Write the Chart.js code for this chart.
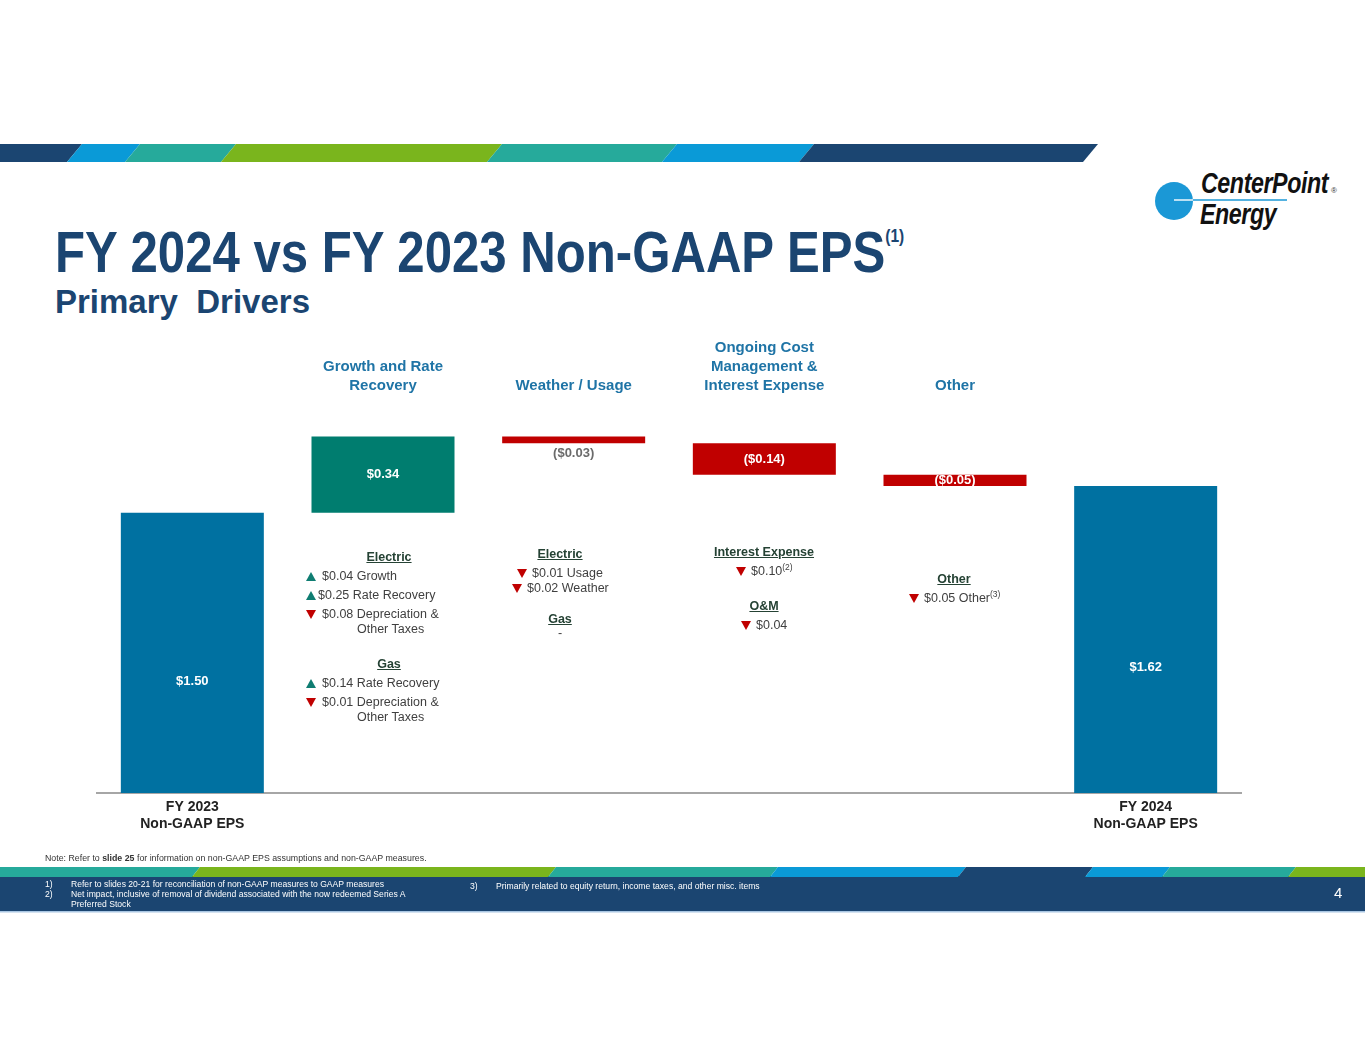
<!DOCTYPE html>
<html>
<head>
<meta charset="utf-8">
<title>FY 2024 vs FY 2023 Non-GAAP EPS</title>
<script src="https://cdn.jsdelivr.net/npm/chart.js@4.4.1/dist/chart.umd.min.js"></script>
<style>
  body { margin: 0; width: 1365px; height: 1055px; background: #fff; position: relative; overflow: hidden;
         font-family: "Liberation Sans", Arial, sans-serif; }
  .abs { position: absolute; white-space: nowrap; }
  #chart { position: absolute; left: 0; top: 0; }
  .title { left: 55px; top: 224px; font-size: 57px; line-height: 57px; font-weight: bold; color: #1b4571;
           transform: scaleX(0.862); transform-origin: 0 0; }
  .title sup { font-size: 18px; vertical-align: 30px; line-height: 0; }
  .subtitle { left: 55px; top: 285px; font-size: 33px; line-height: 33px; font-weight: bold; color: #1b4571; }
  .note { font-size: 12.5px; line-height: 16px; color: #3f3f3f; }
  .head { font-weight: bold; text-decoration: underline; color: #254234; text-align: center; width: 160px; }
  .up, .down { position: absolute; width: 0; height: 0; border-left: 5px solid transparent; border-right: 5px solid transparent; }
  .up { border-bottom: 9px solid #0f7d72; }
  .down { border-top: 9px solid #c00000; }
  .note sup { font-size: 8.5px; vertical-align: 5px; line-height: 0; }
  .foot { font-size: 8.6px; line-height: 10px; color: #fff; }
  .logo1 { left: 1201px; top: 169px; font-size: 29px; line-height: 29px; font-weight: bold; font-style: italic; color: #111;
           transform: scaleX(0.8); transform-origin: 0 0; letter-spacing: -0.5px; }
  .logo2 { left: 1200px; top: 200px; font-size: 29px; line-height: 29px; font-weight: bold; font-style: italic; color: #111;
           transform: scaleX(0.8); transform-origin: 0 0; letter-spacing: -0.5px; }
</style>
</head>
<body>

<svg class="abs" style="left:0;top:0" width="1365" height="1055">
  <!-- header band -->
  <polygon points="0,144 82,144 67,162 0,162" fill="#1b4571"/>
  <polygon points="82,144 140,144 125,162 67,162" fill="#0a9ad7"/>
  <polygon points="140,144 236,144 221,162 125,162" fill="#26aa9b"/>
  <polygon points="236,144 502,144 487,162 221,162" fill="#7ab51d"/>
  <polygon points="502,144 677,144 662,162 487,162" fill="#26aa9b"/>
  <polygon points="677,144 814,144 799,162 662,162" fill="#0a9ad7"/>
  <polygon points="814,144 1098,144 1083,162 799,162" fill="#1b4571"/>
  <!-- footer band -->
  <rect x="0" y="876" width="1365" height="35" fill="#1b4571"/>
  <polygon points="0,867 200,867 192,877 0,877" fill="#26aa9b"/>
  <polygon points="200,867 556,867 548,877 192,877" fill="#7ab51d"/>
  <polygon points="556,867 778,867 770,877 548,877" fill="#26aa9b"/>
  <polygon points="778,867 966,867 958,877 770,877" fill="#0a9ad7"/>
  <polygon points="966,867 1093,867 1085,877 958,877" fill="#1b4571"/>
  <polygon points="1093,867 1170,867 1162,877 1085,877" fill="#0a9ad7"/>
  <polygon points="1170,867 1296,867 1288,877 1162,877" fill="#26aa9b"/>
  <polygon points="1296,867 1365,867 1365,877 1288,877" fill="#7ab51d"/>
  <rect x="0" y="911" width="1365" height="1.5" fill="#a9c6e2"/>
  <!-- logo mark -->
  <circle cx="1174" cy="201" r="19" fill="#1b98d6"/>
  <line x1="1174" y1="200" x2="1193" y2="200" stroke="#fff" stroke-width="1.4"/>
  <line x1="1193" y1="200" x2="1287" y2="200" stroke="#1b98d6" stroke-width="1.4"/>
</svg>

<div class="abs logo1">CenterPoint</div>
<div class="abs logo2">Energy</div>
<div class="abs" style="left:1331px;top:186px;font-size:8px;color:#333">&reg;</div>

<div class="abs title">FY 2024 vs FY 2023 Non-GAAP EPS<sup>(1)</sup></div>
<div class="abs subtitle">Primary&nbsp; Drivers</div>

<canvas id="chart" width="1365" height="1055"></canvas>

<!-- Growth and Rate Recovery -->
<div class="abs note head" style="left:309px;top:549px">Electric</div>
<span class="up" style="left:306px;top:572px"></span><div class="abs note" style="left:322px;top:568px">$0.04 Growth</div>
<span class="up" style="left:306px;top:591px"></span><div class="abs note" style="left:318px;top:587px">$0.25 Rate Recovery</div>
<span class="down" style="left:306px;top:610px"></span><div class="abs note" style="left:322px;top:606px">$0.08 Depreciation &amp;</div>
<div class="abs note" style="left:357px;top:621px">Other Taxes</div>
<div class="abs note head" style="left:309px;top:656px">Gas</div>
<span class="up" style="left:306px;top:679px"></span><div class="abs note" style="left:322px;top:675px">$0.14 Rate Recovery</div>
<span class="down" style="left:306px;top:698px"></span><div class="abs note" style="left:322px;top:694px">$0.01 Depreciation &amp;</div>
<div class="abs note" style="left:357px;top:709px">Other Taxes</div>

<!-- Weather / Usage -->
<div class="abs note head" style="left:480px;top:546px">Electric</div>
<span class="down" style="left:517px;top:569px"></span><div class="abs note" style="left:532px;top:565px">$0.01 Usage</div>
<span class="down" style="left:512px;top:584px"></span><div class="abs note" style="left:527px;top:580px">$0.02 Weather</div>
<div class="abs note head" style="left:480px;top:611px">Gas</div>
<div class="abs note" style="left:480px;top:625px;width:160px;text-align:center">-</div>

<!-- Ongoing Cost Management & Interest Expense -->
<div class="abs note head" style="left:684px;top:544px">Interest Expense</div>
<span class="down" style="left:736px;top:567px"></span><div class="abs note" style="left:751px;top:563px">$0.10<sup>(2)</sup></div>
<div class="abs note head" style="left:684px;top:598px">O&amp;M</div>
<span class="down" style="left:741px;top:621px"></span><div class="abs note" style="left:756px;top:617px">$0.04</div>

<!-- Other -->
<div class="abs note head" style="left:874px;top:571px">Other</div>
<span class="down" style="left:909px;top:594px"></span><div class="abs note" style="left:924px;top:590px">$0.05 Other<sup>(3)</sup></div>

<div class="abs" style="left:45px;top:853px;font-size:8.8px;color:#333">Note: Refer to <b>slide 25</b> for information on non-GAAP EPS assumptions and non-GAAP measures.</div>
<div class="abs foot" style="left:45px;top:879px">1)</div>
<div class="abs foot" style="left:71px;top:879px">Refer to slides 20-21 for reconciliation of non-GAAP measures to GAAP measures</div>
<div class="abs foot" style="left:45px;top:889px">2)</div>
<div class="abs foot" style="left:71px;top:889px">Net impact, inclusive of removal of dividend associated with the now redeemed Series A</div>
<div class="abs foot" style="left:71px;top:899px">Preferred Stock</div>
<div class="abs foot" style="left:470px;top:881px">3)</div>
<div class="abs foot" style="left:496px;top:881px">Primarily related to equity return, income taxes, and other misc. items</div>
<div class="abs" style="left:1334px;top:884px;font-size:15px;color:#fff">4</div>

<script>
// categories on the bottom axis, driver groups on the top axis
var categories = [["FY 2023", "Non-GAAP EPS"], "", "", "", "", ["FY 2024", "Non-GAAP EPS"]];
var drivers = ["", ["Growth and Rate", "Recovery"], "Weather / Usage", ["Ongoing Cost", "Management &", "Interest Expense"], "Other", ""];

// EPS in $ per share
var startEps = 1.50;
var changes = [0.34, -0.03, -0.14, -0.05];
var endEps = 1.62;

var BLUE = "#0071a1", TEAL = "#007d6f", RED = "#c00000";

// build the waterfall ranges
var amounts = [startEps].concat(changes).concat([endEps]);
var ranges = [[0, startEps]];
var level = startEps;
changes.forEach(function (c) {
    ranges.push([Math.min(level, level + c), Math.max(level, level + c)]);
    level += c;
});
ranges.push([0, endEps]);

var barColors = amounts.map(function (v, i) {
    if (i === 0 || i === amounts.length - 1) return BLUE;
    return v >= 0 ? TEAL : RED;
});

function money(v) {
    var s = "$" + Math.abs(v).toFixed(2);
    return v < 0 ? "(" + s + ")" : s;
}

var valueLabels = {
    id: "valueLabels",
    afterDatasetsDraw: function (chart) {
        var ctx = chart.ctx, y = chart.scales.y;
        var bars = chart.getDatasetMeta(0).data;
        ctx.save();
        ctx.font = "bold 13px 'Liberation Sans', Arial, sans-serif";
        ctx.textAlign = "center";
        ctx.textBaseline = "middle";
        bars.forEach(function (bar, i) {
            var top = y.getPixelForValue(ranges[i][1]);
            var bottom = Math.min(y.getPixelForValue(ranges[i][0]), chart.chartArea.bottom);
            var py = (top + bottom) / 2, color = "#fff";
            if (i === 0 || i === bars.length - 1) {
                py = y.getPixelForValue(ranges[i][1] / 2);
            } else if (bottom - top < 8) {
                py = bottom + 10;
                color = "#6b6b6b";
            }
            ctx.fillStyle = color;
            ctx.fillText(money(amounts[i]), bar.x, py);
        });
        ctx.restore();
    }
};

new Chart(document.getElementById("chart"), {
    type: "bar",
    data: {
        labels: categories,
        datasets: [{
            data: ranges,
            backgroundColor: barColors,
            borderWidth: 0,
            categoryPercentage: 1,
            barPercentage: 0.75,
            clip: 0
        }]
    },
    options: {
        responsive: false,
        animation: false,
        layout: { padding: { left: 97, right: 124, top: 330, bottom: 195 } },
        plugins: { legend: { display: false }, tooltip: { enabled: false } },
        scales: {
            x: {
                position: "bottom",
                grid: { display: false, drawTicks: false },
                border: { display: true, color: "#a6a6a6", width: 2 },
                ticks: {
                    color: "#222",
                    font: { family: "'Liberation Sans', Arial, sans-serif", size: 14, weight: "bold", lineHeight: 1.2 },
                    padding: 6, maxRotation: 0, autoSkip: false
                },
                afterFit: function (s) { s.height = 67; }
            },
            xTop: {
                type: "category",
                position: "top",
                labels: drivers,
                grid: { display: false, drawTicks: false },
                border: { display: false },
                ticks: {
                    color: "#1f74a6",
                    font: { family: "'Liberation Sans', Arial, sans-serif", size: 15, weight: "bold", lineHeight: 1.25 },
                    padding: 8, maxRotation: 0, autoSkip: false
                },
                afterFit: function (s) { s.height = 73; }
            },
            y: {
                display: false,
                min: 0.25,
                max: 1.99
            }
        }
    },
    plugins: [valueLabels]
});
</script>
</body>
</html>
